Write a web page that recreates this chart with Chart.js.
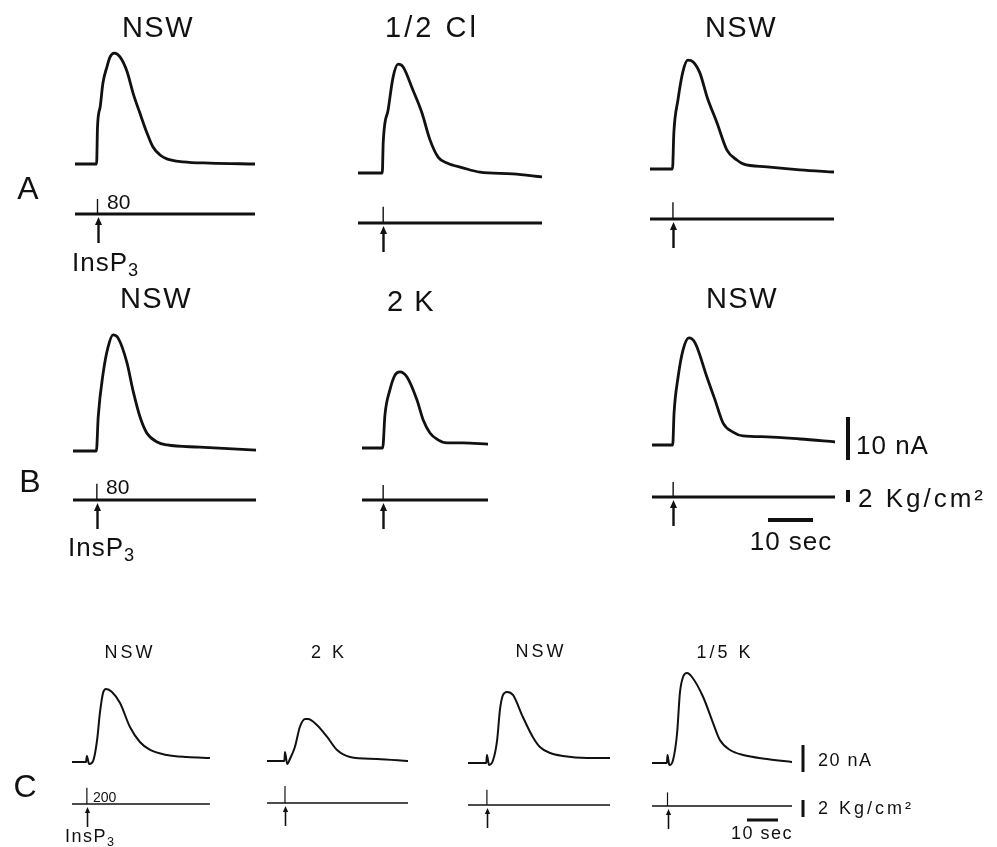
<!DOCTYPE html>
<html>
<head>
<meta charset="utf-8">
<script src="https://cdn.jsdelivr.net/npm/chart.js@4/dist/chart.umd.min.js"></script>
<style>
  body { margin: 0; background: #fff; }
  #fig { position: relative; width: 997px; height: 847px; overflow: hidden; background: #fff;
         font-family: "Liberation Sans", Arial, sans-serif; color: #111; }
  #fig canvas { position: absolute; left: 0; top: 0; }
  .lbl { position: absolute; white-space: nowrap; line-height: 1; transform: translate(-50%, -50%); }
  .left { transform: translate(0, -50%); }
  .big { font-size: 29px; letter-spacing: 1.5px; }
  .wide { letter-spacing: 3px; }
  .row { font-size: 32px; }
  .mid { font-size: 26px; letter-spacing: 1px; }
  .unit { font-size: 26px; letter-spacing: 3px; }
  .dose { font-size: 21px; }
  .sm { font-size: 18px; letter-spacing: 3px; }
  .smt { font-size: 18px; letter-spacing: 1.5px; }
  .smu { font-size: 18px; letter-spacing: 3px; }
  .tiny { font-size: 14px; }
  .sub { font-size: .7em; position: relative; top: .3em; }
</style>
</head>
<body>
<div id="fig">
  <!-- solution labels -->
  <div class="lbl big" style="left:158px;top:27px">NSW</div>
  <div class="lbl big wide" style="left:432px;top:27px">1/2 Cl</div>
  <div class="lbl big" style="left:741px;top:27px">NSW</div>
  <div class="lbl big" style="left:156px;top:298px">NSW</div>
  <div class="lbl big" style="left:411px;top:301px">2 K</div>
  <div class="lbl big" style="left:742px;top:298px">NSW</div>
  <div class="lbl sm" style="left:130px;top:652px">NSW</div>
  <div class="lbl sm" style="left:329px;top:652px">2 K</div>
  <div class="lbl sm" style="left:541px;top:651px">NSW</div>
  <div class="lbl sm" style="left:725px;top:652px">1/5&nbsp;K</div>
  <!-- row letters -->
  <div class="lbl row" style="left:28px;top:188px">A</div>
  <div class="lbl row" style="left:30px;top:481px">B</div>
  <div class="lbl row" style="left:25px;top:786px">C</div>
  <!-- injection marks -->
  <div class="lbl dose left" style="left:107px;top:201px">80</div>
  <div class="lbl mid left" style="left:72px;top:262px">InsP<span class="sub">3</span></div>
  <div class="lbl dose left" style="left:106px;top:486px">80</div>
  <div class="lbl mid left" style="left:68px;top:547px">InsP<span class="sub">3</span></div>
  <div class="lbl tiny left" style="left:93px;top:797px">200</div>
  <div class="lbl smt left" style="left:65px;top:836px">InsP<span class="sub">3</span></div>
  <!-- calibration labels -->
  <div class="lbl mid left" style="left:856px;top:445px">10 nA</div>
  <div class="lbl unit left" style="left:858px;top:498px">2 Kg/cm²</div>
  <div class="lbl mid" style="left:791px;top:541px">10 sec</div>
  <div class="lbl smt left" style="left:818px;top:760px">20 nA</div>
  <div class="lbl smu left" style="left:818px;top:808px">2 Kg/cm²</div>
  <div class="lbl smt" style="left:762px;top:833px">10 sec</div>
</div>
<script>
// time (s) and inward current (nA, drawn upward)
const a1Time = [0, 4.8, 5.0, 5.6, 6.2, 7.1, 7.8, 8.7, 10.0, 11.6, 12.9, 14.4, 16.0, 17.3, 18.9, 20.4, 24.0, 30.0, 40.0];
const a1Current = [0, 0, 8.6, 13.3, 18.8, 22.6, 24.9, 25.8, 24.9, 21.4, 16.5, 11.9, 7.2, 4.0, 2.1, 1.2, 0.5, 0.2, 0];
const a2Time = [0, 5.4, 5.6, 6.7, 7.8, 8.9, 10.0, 12.2, 14.2, 16.0, 17.8, 19.8, 23.3, 27.1, 34.4, 40.9];
const a2Current = [0, 0, 7.0, 14.7, 22.3, 25.3, 24.7, 19.3, 14.0, 7.7, 3.7, 2.3, 1.2, 0.2, -0.2, -0.9];
const a3Time = [0, 5.0, 5.3, 6.2, 7.3, 8.4, 9.6, 11.1, 12.7, 14.9, 17.1, 19.3, 20.7, 26.0, 33.3, 40.9];
const a3Current = [0, 0, 8.4, 16.0, 22.6, 25.3, 24.9, 22.3, 16.7, 10.7, 4.4, 2.1, 1.2, 0.5, -0.2, -0.7];
const b1Time = [0, 5.2, 5.6, 6.7, 7.8, 8.9, 10.0, 12.0, 13.3, 14.9, 16.4, 18.7, 20.9, 28.2, 40.7];
const b1Current = [0, 0, 7.9, 18.1, 24.2, 27.0, 26.3, 20.5, 14.2, 7.9, 4.2, 2.1, 1.4, 0.9, 0.2];
const b2Time = [0, 4.6, 5.1, 6.2, 7.3, 8.4, 10.0, 12.2, 13.6, 15.1, 16.9, 18.9, 22.4, 28.0];
const b2Current = [0, 0, 7.7, 13.5, 16.9, 17.7, 16.5, 11.2, 6.5, 3.5, 1.9, 1.2, 1.2, 0.9];
const b3Time = [0, 4.6, 4.9, 5.8, 6.9, 8.2, 9.6, 12.2, 14.0, 15.8, 18.0, 20.2, 25.6, 32.9, 40.7];
const b3Current = [0, 0, 7.4, 15.8, 22.1, 24.9, 23.7, 15.8, 10.5, 5.1, 3.0, 2.1, 1.9, 1.4, 0.7];
const c1Time = [0, 4.5, 4.8, 5.5, 6.8, 8.1, 9.0, 10.0, 11.0, 12.9, 15.5, 18.7, 21.9, 25.2, 30.6, 37.1, 44.5];
const c1Current = [0, 0, 4.4, -1.5, 0.7, 16.3, 36.3, 51.1, 54.1, 51.9, 43.7, 25.9, 14.8, 8.9, 5.2, 3.7, 3.0];
const c2Time = [0, 5.6, 5.8, 6.5, 7.4, 9.0, 10.6, 12.3, 13.2, 16.1, 19.4, 22.6, 26.8, 35.5, 45.5];
const c2Current = [0, 0, 6.7, -2.2, 1.5, 10.4, 25.2, 31.1, 31.1, 26.7, 17.8, 8.1, 3.0, 1.5, 0];
const c3Time = [0, 5.9, 6.1, 6.8, 8.1, 9.4, 10.3, 11.3, 12.6, 14.5, 17.7, 20.9, 23.2, 26.5, 30.6, 38.4, 45.8];
const c3Current = [0, 0, 5.9, -1.5, 2.2, 17.0, 39.3, 50.4, 52.6, 50.4, 34.1, 19.3, 11.9, 7.4, 5.2, 3.7, 3.7];
const c4Time = [0, 4.8, 5.0, 5.6, 6.8, 8.1, 9.0, 10.0, 11.3, 12.9, 16.5, 19.7, 21.9, 25.2, 29.4, 37.1, 45.2];
const c4Current = [0, 0, 5.9, -1.5, 2.2, 22.2, 51.9, 63.7, 66.7, 63.7, 48.9, 29.6, 17.0, 9.6, 5.9, 3.0, 0.7];

// InsP3 pressure puff per panel: time (s) and peak (Kg/cm2)
const puffTime = [5.0, 5.6, 5.1, 5.3, 4.7, 4.7, 4.8, 5.8, 6.1, 5.0];
const puffPressure = [2.5, 2.7, 2.8, 2.7, 2.5, 2.5, 1.9, 2.0, 1.8, 1.6];

// calibration bar values
const calAB = { nA: 10, kg: 2, sec: 10 };
const calC = { nA: 20, kg: 2, sec: 10 };

const ink = '#111';
const W = 997, H = 847;

// pixels per unit and stroke styles for each row of the figure
const rowStyle = {
  AB: { sec: 4.5, nA: 4.3, kg: 6.0, trace: 2.8, base: 3, spike: 1.4, arrow: 26, head: 8, shaft: 2.4 },
  C:  { sec: 3.1, nA: 1.35, kg: 8.5, trace: 2.0, base: 1.6, spike: 1.2, arrow: 20, head: 6, shaft: 1.6 }
};

// where each panel sits: left edge, current baseline, pressure baseline
const panels = [
  { time: a1Time, current: a1Current, row: 'AB', x0: 75,  baseI: 164, baseP: 214 },
  { time: a2Time, current: a2Current, row: 'AB', x0: 358, baseI: 173, baseP: 223 },
  { time: a3Time, current: a3Current, row: 'AB', x0: 650, baseI: 169, baseP: 219 },
  { time: b1Time, current: b1Current, row: 'AB', x0: 73,  baseI: 451, baseP: 500 },
  { time: b2Time, current: b2Current, row: 'AB', x0: 362, baseI: 448, baseP: 500 },
  { time: b3Time, current: b3Current, row: 'AB', x0: 652, baseI: 445, baseP: 497,
    bars: { cal: calAB, x: 848, nAFoot: 460, kgFoot: 502, secLeft: 768, secY: 520, w: 4 } },
  { time: c1Time, current: c1Current, row: 'C', x0: 72,  baseI: 762, baseP: 804 },
  { time: c2Time, current: c2Current, row: 'C', x0: 267, baseI: 761, baseP: 803 },
  { time: c3Time, current: c3Current, row: 'C', x0: 468, baseI: 763, baseP: 805 },
  { time: c4Time, current: c4Current, row: 'C', x0: 652, baseI: 763, baseP: 806,
    bars: { cal: calC, x: 803, nAFoot: 772, kgFoot: 817, secLeft: 747, secY: 820, w: 3 } }
];

// arrows under the puff and calibration bars, placed through the chart scales
const marks = {
  id: 'marks',
  afterDatasetsDraw(chart, args, opts) {
    const p = opts.panel, s = rowStyle[p.row];
    const { ctx } = chart;
    const x = chart.scales.x, yI = chart.scales.yI, yP = chart.scales.yP;
    const ax = Math.round(x.getPixelForValue(p.puff)) + 0.5;
    const top = yP.getPixelForValue(0) + 3;
    ctx.save();
    ctx.strokeStyle = ink;
    ctx.fillStyle = ink;
    ctx.lineWidth = s.shaft;
    ctx.beginPath();
    ctx.moveTo(ax, top + s.head - 1);
    ctx.lineTo(ax, top + s.arrow);
    ctx.stroke();
    ctx.beginPath();
    ctx.moveTo(ax, top);
    ctx.lineTo(ax - s.head / 2.3, top + s.head);
    ctx.lineTo(ax + s.head / 2.3, top + s.head);
    ctx.closePath();
    ctx.fill();
    if (p.bars) {
      const b = p.bars;
      const nALen = yI.getPixelForValue(0) - yI.getPixelForValue(b.cal.nA);
      const kgLen = yP.getPixelForValue(0) - yP.getPixelForValue(b.cal.kg);
      const secLen = x.getPixelForValue(b.cal.sec) - x.getPixelForValue(0);
      ctx.lineWidth = b.w;
      ctx.beginPath();
      ctx.moveTo(b.x, b.nAFoot);
      ctx.lineTo(b.x, b.nAFoot - nALen);
      ctx.moveTo(b.x, b.kgFoot);
      ctx.lineTo(b.x, b.kgFoot - kgLen);
      ctx.moveTo(b.secLeft, b.secY);
      ctx.lineTo(b.secLeft + secLen, b.secY);
      ctx.stroke();
    }
    ctx.restore();
  }
};

const fig = document.getElementById('fig');

panels.forEach(function (p, i) {
  const s = rowStyle[p.row];
  const T = p.time[p.time.length - 1];
  p.puff = puffTime[i];
  const canvas = document.createElement('canvas');
  canvas.width = W;
  canvas.height = H;
  fig.insertBefore(canvas, fig.firstChild);

  new Chart(canvas.getContext('2d'), {
    type: 'line',
    data: {
      datasets: [
        {
          data: p.time.map((t, k) => ({ x: t, y: p.current[k] })),
          yAxisID: 'yI',
          borderWidth: s.trace,
          cubicInterpolationMode: 'monotone'
        },
        {
          data: [{ x: 0, y: 0 }, { x: T, y: 0 }],
          yAxisID: 'yP',
          borderWidth: s.base
        },
        {
          data: [{ x: puffTime[i], y: 0 }, { x: puffTime[i], y: puffPressure[i] }],
          yAxisID: 'yP',
          borderWidth: s.spike
        }
      ]
    },
    options: {
      responsive: false,
      animation: false,
      devicePixelRatio: 1,
      events: [],
      layout: { padding: { left: p.x0, right: W - (p.x0 + T * s.sec), top: 0, bottom: 0 } },
      elements: {
        point: { radius: 0 },
        line: { borderColor: ink, borderJoinStyle: 'round', borderCapStyle: 'butt', fill: false }
      },
      plugins: {
        legend: { display: false },
        tooltip: { enabled: false },
        marks: { panel: p }
      },
      scales: {
        x: { type: 'linear', display: false, min: 0, max: T },
        yI: { type: 'linear', display: false, min: -(H - p.baseI) / s.nA, max: p.baseI / s.nA },
        yP: { type: 'linear', display: false, min: -(H - p.baseP) / s.kg, max: p.baseP / s.kg }
      }
    },
    plugins: [marks]
  });
});
</script>
</body>
</html>
